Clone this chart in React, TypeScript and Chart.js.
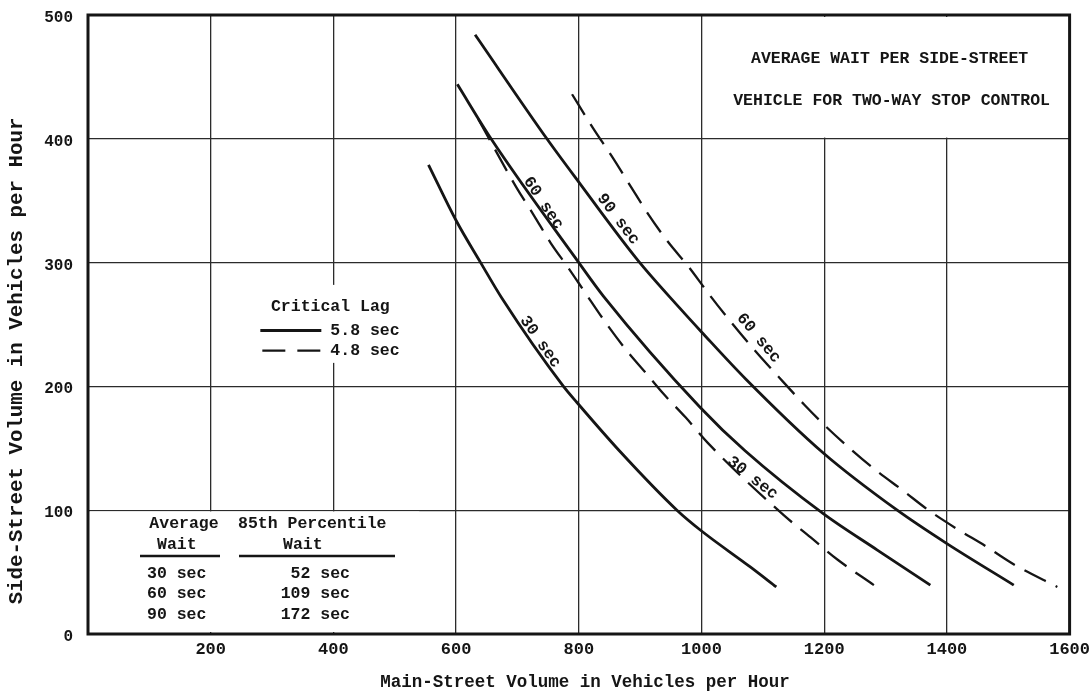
import React, { useEffect, useRef } from "react";
import { Chart, registerables } from "chart.js";

Chart.register(...registerables);

// Main-street (x) and side-street (y) volumes, vehicles per hour, along each curve.
// Critical lag 5.8 sec (solid)
const solid30X = [555, 600, 640, 675, 775, 797, 868, 960, 998, 1080, 1122];
const solid30Y = [379, 334, 300, 271, 200, 187, 147, 100, 84, 54, 38];

const solid60X = [602, 657, 800, 840, 998, 1071, 1199, 1286, 1373];
const solid60Y = [444, 400, 300, 273, 183, 148, 97, 68, 39.5];

const solid90X = [631, 748, 800, 896, 965, 1000, 1072, 1199, 1319, 1400, 1509];
const solid90Y = [484, 400, 365, 302, 263, 244, 206, 146, 100, 73, 39.5];

// Critical lag 4.8 sec (dashed)
const dashed30X = [636, 698, 727, 754, 784, 810, 846, 878, 909, 938, 974, 1011, 1134, 1178, 1222, 1281];
const dashed30Y = [416, 361, 338, 316, 295, 276, 250, 229, 211, 194, 175, 154, 96, 78, 60, 39.5];

const dashed60X = [789, 824, 855, 884, 912, 945, 980, 1013, 1048, 1087, 1127, 1168, 1204, 1244, 1285, 1328, 1370, 1416, 1463, 1510, 1580];
const dashed60Y = [436, 408, 385, 362, 340, 317, 296, 274, 252, 229, 207, 185, 167, 149, 132, 116, 100, 85, 71, 56, 38];

// Axis ranges and tick steps
const xRange = [0, 1600];
const yRange = [0, 500];
const xStep = 200;
const yStep = 100;

// Text
const headingLines = ["AVERAGE WAIT PER SIDE-STREET", "VEHICLE FOR TWO-WAY STOP CONTROL"];
const legendTitle = "Critical Lag";
const legendSolid = "5.8 sec";
const legendDashed = "4.8 sec";
const tableHead = ["Average", "Wait", "85th Percentile", "Wait"];
const avgWait = ["30 sec", "60 sec", "90 sec"];
const pct85Wait = ["52 sec", "109 sec", "172 sec"];
const xTitle = "Main-Street Volume in Vehicles per Hour";
const yTitle = "Side-Street Volume in Vehicles per Hour";

// Curve labels, anchored in data units
const curveLabels = [
  { text: "30 sec", x: 737, y: 236, angle: 55 },
  { text: "60 sec", x: 742, y: 348, angle: 56 },
  { text: "90 sec", x: 864, y: 335, angle: 53 },
  { text: "60 sec", x: 1093, y: 239, angle: 50 },
  { text: "30 sec", x: 1083, y: 126, angle: 38 },
];

// White panels that mask the grid: [x0, x1, y0, y1] in data units
const panels = [
  [1008, 1600, 401, 500],
  [0, 540, 0, 99],
  [270, 525, 219, 282],
];

const MONO = '"Liberation Mono", "DejaVu Sans Mono", monospace';
const INK = "#151515";

const zip = (xs: number[], ys: number[]) => xs.map((x, i) => ({ x, y: ys[i] }));

const overlay = {
  id: "overlay",
  beforeDatasetsDraw(chart: any) {
    const { ctx, chartArea: a, scales } = chart;
    const sx = scales.x;
    const sy = scales.y;
    ctx.save();
    ctx.fillStyle = "#ffffff";
    for (const [x0v, x1v, y0v, y1v] of panels) {
      const x0 = Math.max(sx.getPixelForValue(x0v), a.left + 2);
      const x1 = Math.min(sx.getPixelForValue(x1v), a.right - 2);
      const y0 = Math.max(sy.getPixelForValue(y1v), a.top + 2);
      const y1 = Math.min(sy.getPixelForValue(y0v), a.bottom - 2);
      ctx.fillRect(x0, y0, x1 - x0, y1 - y0);
    }
    ctx.strokeStyle = INK;
    ctx.lineWidth = 3;
    ctx.strokeRect(a.left, a.top, a.right - a.left, a.bottom - a.top);
    ctx.restore();
  },
  afterDatasetsDraw(chart: any) {
    const { ctx, chartArea: a, scales } = chart;
    const sx = scales.x;
    const sy = scales.y;
    ctx.save();
    ctx.fillStyle = INK;
    ctx.strokeStyle = INK;

    // labels along the curves
    ctx.font = `bold 16.5px ${MONO}`;
    ctx.textAlign = "center";
    ctx.textBaseline = "middle";
    for (const l of curveLabels) {
      ctx.save();
      ctx.translate(sx.getPixelForValue(l.x), sy.getPixelForValue(l.y));
      ctx.rotate((l.angle * Math.PI) / 180);
      ctx.fillText(l.text, 0, 0);
      ctx.restore();
    }

    // heading, top right
    const hx = a.right - 180;
    ctx.font = `bold 16.5px ${MONO}`;
    ctx.textAlign = "center";
    ctx.fillText(headingLines[0], hx, a.top + 44);
    ctx.fillText(headingLines[1], hx + 2, a.top + 86);

    // critical lag key
    const lx = sx.getPixelForValue(395);
    const ly = sy.getPixelForValue(264.5);
    ctx.textAlign = "center";
    ctx.fillText(legendTitle, lx, ly);
    ctx.textAlign = "left";
    ctx.fillText(legendSolid, lx, ly + 24);
    ctx.fillText(legendDashed, lx, ly + 44);
    ctx.lineWidth = 3;
    ctx.beginPath();
    ctx.moveTo(lx - 70, ly + 24);
    ctx.lineTo(lx - 9, ly + 24);
    ctx.stroke();
    ctx.lineWidth = 2.2;
    ctx.beginPath();
    ctx.moveTo(lx - 68, ly + 44);
    ctx.lineTo(lx - 45, ly + 44);
    ctx.moveTo(lx - 33, ly + 44);
    ctx.lineTo(lx - 10, ly + 44);
    ctx.stroke();

    // wait table, bottom left
    const tx = a.left;
    const tb = a.bottom;
    ctx.textAlign = "center";
    ctx.fillText(tableHead[0], tx + 96, tb - 110);
    ctx.textAlign = "left";
    ctx.fillText(tableHead[1], tx + 69, tb - 89);
    ctx.fillText(tableHead[2], tx + 150, tb - 110);
    ctx.fillText(tableHead[3], tx + 195, tb - 89);
    ctx.lineWidth = 2.5;
    ctx.beginPath();
    ctx.moveTo(tx + 52, tb - 78);
    ctx.lineTo(tx + 132, tb - 78);
    ctx.moveTo(tx + 151, tb - 78);
    ctx.lineTo(tx + 307, tb - 78);
    ctx.stroke();
    const rowY = [tb - 60, tb - 40, tb - 19];
    avgWait.forEach((t, i) => {
      ctx.textAlign = "left";
      ctx.fillText(t, tx + 59, rowY[i]);
      ctx.textAlign = "right";
      ctx.fillText(pct85Wait[i], tx + 262, rowY[i]);
    });
    ctx.restore();
  },
  afterDraw(chart: any) {
    const { ctx } = chart;
    ctx.save();
    ctx.fillStyle = INK;
    ctx.textAlign = "center";
    ctx.textBaseline = "middle";
    ctx.font = `bold 17.5px ${MONO}`;
    ctx.fillText(xTitle, 585, 683);
    ctx.translate(17, 361);
    ctx.rotate(-Math.PI / 2);
    ctx.font = `bold 20.8px ${MONO}`;
    ctx.fillText(yTitle, 0, 0);
    ctx.restore();
  },
};

export default function App() {
  const canvasRef = useRef<HTMLCanvasElement | null>(null);

  useEffect(() => {
    const canvas = canvasRef.current;
    if (!canvas) return;
    const line = (xs: number[], ys: number[], dashed: boolean) => ({
      data: zip(xs, ys),
      borderColor: INK,
      borderWidth: dashed ? 2.3 : 2.8,
      borderDash: dashed ? [24, 11] : [],
      pointRadius: 0,
      fill: false,
      cubicInterpolationMode: "monotone" as const,
    });
    const grid = { color: "#2b2b2b", lineWidth: 1.3, drawTicks: false };
    const chart = new Chart(canvas, {
      type: "line",
      data: {
        datasets: [
          line(solid30X, solid30Y, false),
          line(solid60X, solid60Y, false),
          line(solid90X, solid90Y, false),
          line(dashed30X, dashed30Y, true),
          line(dashed60X, dashed60Y, true),
        ],
      },
      options: {
        animation: false,
        responsive: false,
        devicePixelRatio: 1,
        events: [],
        layout: { padding: 0 },
        plugins: { legend: { display: false }, tooltip: { enabled: false } },
        scales: {
          x: {
            type: "linear",
            min: xRange[0],
            max: xRange[1],
            afterFit: (s: any) => {
              s.height = 59;
            },
            ticks: {
              stepSize: xStep,
              padding: 0,
              maxRotation: 0,
              autoSkip: false,
              color: INK,
              font: { family: MONO, size: 17, weight: "bold", lineHeight: 1.8 },
              callback: (v: any) => (v === 0 ? "" : String(v)),
            },
            grid,
            border: { display: false },
          },
          y: {
            type: "linear",
            min: yRange[0],
            max: yRange[1],
            afterFit: (s: any) => {
              s.width = 88;
            },
            ticks: {
              stepSize: yStep,
              padding: 5.4,
              labelOffset: 3,
              color: INK,
              font: { family: MONO, size: 16, weight: "bold" },
              // trailing space keeps the numbers clear of the frame
              callback: (v: any) => `${v} `,
            },
            grid,
            border: { display: false },
          },
        },
      },
      plugins: [overlay],
    } as any);
    return () => chart.destroy();
  }, []);

  return (
    <div style={{ position: "fixed", left: 0, top: 0, width: 1090, height: 693, background: "#fff" }}>
      <canvas ref={canvasRef} width={1090} height={693} style={{ display: "block" }} />
    </div>
  );
}
